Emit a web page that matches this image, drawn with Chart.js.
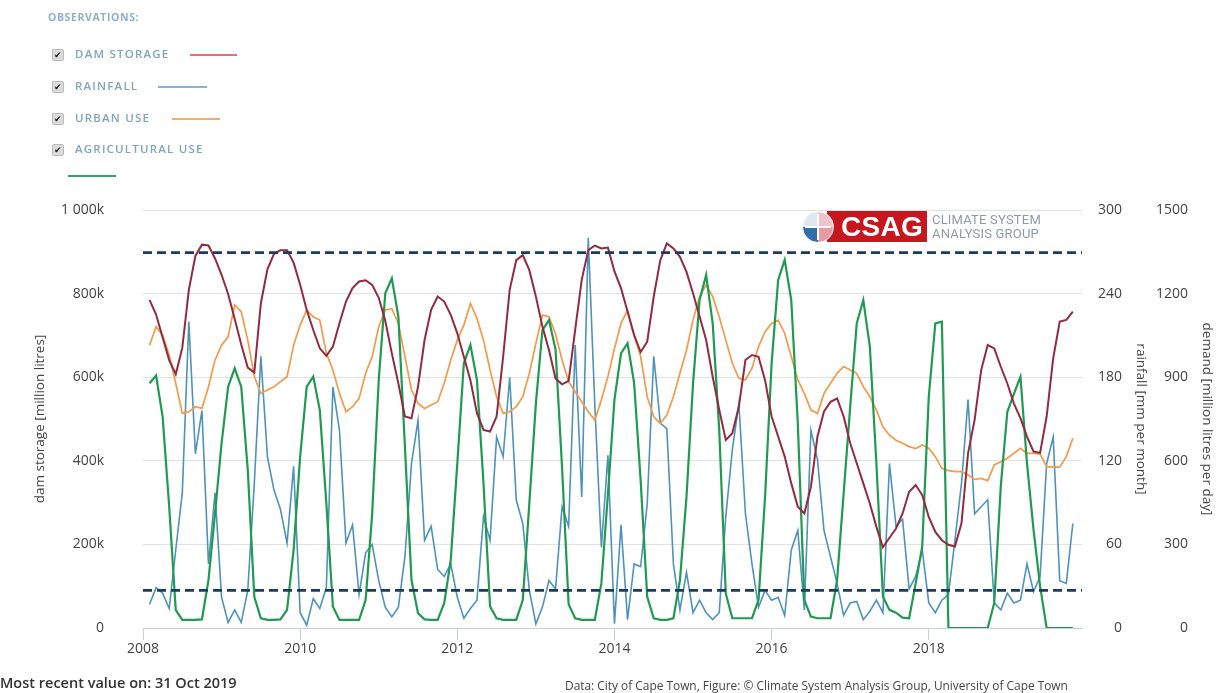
<!DOCTYPE html>
<html>
<head>
<meta charset="utf-8">
<script src="https://cdn.jsdelivr.net/npm/chart.js@4/dist/chart.umd.min.js"></script>
<style>
body{margin:0;background:#fff;font-family:'Open Sans',sans-serif;}
#wrap{position:relative;width:1223px;height:693px;overflow:hidden;}
#chart{position:absolute;left:0;top:0;}
.obs{position:absolute;left:48px;top:10px;font-size:10.5px;font-weight:700;letter-spacing:.6px;color:#8fb0c6;}
.item{position:absolute;left:52px;height:14px;}
.box{position:absolute;left:0;top:1px;width:10px;height:10px;background:#dcdcdc;border:1px solid #b9b9b9;border-radius:2px;font-size:9px;line-height:10px;text-align:center;color:#222;}
.lbl{position:absolute;left:23px;top:-2px;white-space:nowrap;font-size:11.5px;font-weight:600;letter-spacing:1.2px;color:#7ea6bf;}
.sw{position:absolute;height:2px;}
#logo{position:absolute;left:800px;top:210px;height:33px;width:250px;}
.icon{position:absolute;left:2px;top:1px;width:30px;height:30px;border-radius:50%;border:1px solid #fff;
 background:conic-gradient(#f1c3ca 0 25%,#e59aa4 25% 50%,#2f6ea6 50% 75%,#dde8f1 75%);z-index:2;}
.icon:before{content:'';position:absolute;left:14px;top:2px;width:2px;height:26px;background:#fff;}
.icon:after{content:'';position:absolute;left:2px;top:14px;width:26px;height:2px;background:#fff;}
.badge{position:absolute;left:27px;top:1px;width:100px;height:31px;background:#c6161e;color:#fff;font-family:'Liberation Sans',Arial,sans-serif;
 font-weight:700;font-size:28px;line-height:31px;text-align:right;padding-right:4px;box-sizing:border-box;letter-spacing:.3px;}
.ltxt{position:absolute;left:132px;top:3px;font-family:Roboto,sans-serif;font-size:13px;line-height:14px;color:#8e9ba7;letter-spacing:.2px;white-space:nowrap;}
.foot1{position:absolute;left:0;top:673px;font-size:14.5px;font-weight:600;color:#333;}
.foot2{position:absolute;left:565px;top:677px;font-size:11.9px;color:#444;white-space:nowrap;}
</style>
</head>
<body>
<div id="wrap">
<canvas id="chart" width="1223" height="693"></canvas>

<div class="obs">OBSERVATIONS:</div>
<div class="item" style="top:48px"><div class="box">&#10004;</div><div class="lbl">DAM STORAGE</div><div class="sw" style="left:138px;top:6px;width:47px;background:#df6f7c"></div></div>
<div class="item" style="top:80px"><div class="box">&#10004;</div><div class="lbl">RAINFALL</div><div class="sw" style="left:106px;top:6px;width:49px;background:#87b3cf"></div></div>
<div class="item" style="top:112px"><div class="box">&#10004;</div><div class="lbl">URBAN USE</div><div class="sw" style="left:120px;top:6px;width:48px;background:#f4aa73"></div></div>
<div class="item" style="top:143px"><div class="box">&#10004;</div><div class="lbl">AGRICULTURAL USE</div><div class="sw" style="left:16px;top:32px;width:48px;background:#2fa862"></div></div>

<div id="logo">
  <div class="badge">CSAG</div>
  <div class="icon"></div>
  <div class="ltxt">CLIMATE SYSTEM<br>ANALYSIS GROUP</div>
</div>

<div class="foot1">Most recent value on: 31 Oct 2019</div>
<div class="foot2">Data: City of Cape Town, Figure: © Climate System Analysis Group, University of Cape Town</div>
</div>

<script>
// monthly values, Jan 2008 - Oct 2019
const startYear = 2008;

// dam storage, thousand million litres
const damStorage = [
  785, 750, 695, 641, 607, 670, 809, 890, 917, 915, 884, 845,
  799, 740, 678, 623, 611, 777, 858, 895, 904, 904, 874, 821,
  761, 713, 669, 651, 673, 729, 781, 813, 829, 832, 821, 790,
  735, 657, 585, 506, 502, 577, 689, 761, 793, 781, 749, 705,
  649, 593, 514, 474, 470, 506, 649, 809, 880, 892, 856, 793,
  721, 665, 597, 583, 591, 713, 833, 904, 915, 908, 910, 853,
  813, 757, 701, 660, 685, 793, 880, 920, 908, 888, 852, 801,
  745, 689, 601, 522, 450, 466, 530, 641, 653, 649, 593, 506,
  458, 410, 346, 290, 274, 338, 458, 518, 541, 549, 506, 442,
  394, 346, 298, 242, 193, 216, 238, 274, 326, 342, 318, 266,
  230, 210, 199, 195, 251, 418, 498, 617, 677, 669, 625, 585,
  537, 502, 458, 422, 419, 506, 645, 733, 737, 757
];

// rainfall, mm per month
const rainfall = [
  17, 29, 25, 14, 56, 97, 220, 125, 156, 46, 97, 22,
  4, 13, 4, 27, 104, 195, 123, 99, 85, 61, 116, 11,
  2, 21, 14, 29, 173, 142, 61, 74, 24, 54, 60, 34,
  15, 8, 15, 51, 118, 149, 63, 73, 42, 37, 46, 22,
  7, 14, 20, 80, 63, 137, 123, 180, 92, 75, 27, 3,
  15, 34, 28, 87, 73, 203, 94, 280, 160, 58, 124, 3,
  74, 6, 46, 44, 89, 195, 147, 143, 46, 13, 40, 11,
  20, 11, 6, 11, 80, 128, 161, 82, 46, 15, 27, 20,
  22, 9, 56, 70, 13, 142, 121, 70, 51, 32, 9, 18,
  19, 6, 12, 20, 11, 118, 73, 78, 28, 37, 56, 18,
  11, 20, 24, 63, 104, 164, 82, 87, 92, 18, 13, 25,
  18, 20, 46, 26, 37, 118, 137, 34, 32, 75
];

// urban use, million litres per day
const urbanUse = [
  1015, 1081, 1051, 980, 878, 770, 776, 794, 788, 866, 962, 1015,
  1045, 1159, 1135, 1033, 902, 842, 854, 866, 884, 902, 1015, 1087,
  1141, 1117, 1105, 986, 926, 842, 776, 794, 824, 914, 974, 1081,
  1141, 1146, 1093, 974, 854, 806, 788, 800, 812, 878, 962, 1033,
  1087, 1165, 1111, 1033, 926, 830, 770, 776, 794, 830, 914, 1021,
  1123, 1117, 1055, 962, 884, 848, 812, 776, 746, 818, 902, 1003,
  1093, 1140, 1050, 974, 830, 758, 734, 764, 830, 914, 997, 1105,
  1189, 1231, 1189, 1117, 1033, 950, 896, 890, 932, 1010, 1063, 1093,
  1105, 1057, 974, 890, 842, 782, 770, 842, 878, 914, 938, 926,
  914, 866, 830, 782, 722, 692, 674, 663, 651, 644, 657, 645,
  615, 573, 565, 561, 561, 549, 533, 537, 529, 585, 597, 609,
  627, 645, 627, 627, 624, 579, 577, 577, 615, 681
];

// agricultural use, million litres per day
const agriculturalUse = [
  878, 906, 758, 435, 65, 29, 29, 29, 31, 172, 411, 663,
  866, 932, 866, 567, 112, 35, 29, 29, 31, 65, 280, 615,
  866, 902, 782, 447, 77, 29, 29, 29, 29, 100, 411, 890,
  1201, 1255, 1117, 651, 172, 53, 31, 29, 29, 89, 244, 591,
  950, 1016, 890, 519, 77, 35, 29, 29, 29, 100, 447, 806,
  1069, 1105, 1000, 575, 85, 35, 29, 29, 29, 160, 480, 820,
  985, 1022, 880, 530, 112, 35, 29, 29, 35, 172, 471, 878,
  1177, 1267, 1093, 711, 124, 35, 35, 35, 35, 100, 471, 950,
  1249, 1321, 1177, 734, 100, 41, 35, 35, 35, 172, 483, 794,
  1093, 1177, 1010, 591, 112, 65, 55, 37, 35, 160, 292, 830,
  1093, 1099, 0, 0, 0, 0, 0, 0, 0, 90, 510, 776,
  840, 902, 591, 352, 150, 0, 0, 0, 0, 0
];

// dashed reference levels on the storage axis
const storageLevels = [898, 90];

const yearTicks = [2008, 2010, 2012, 2014, 2016, 2018];
const storageTicks = [0, 200, 400, 600, 800, 1000];
const rainTicks = [0, 60, 120, 180, 240, 300];
const demandTicks = [0, 300, 600, 900, 1200, 1500];
const xMin = 2008, xMax = 2019.95;

const toPoints = arr => arr.map((v, i) => ({x: startYear + (i + 1) / 12, y: v}));
const setTicks = list => scale => { scale.ticks = list.map(v => ({value: v})); };
const tickFont = {family: "'Open Sans', sans-serif", size: 14};
const titleFont = {family: "'Open Sans', sans-serif", size: 13.5};

const levelSets = storageLevels.map(v => ({
  data: [{x: xMin, y: v}, {x: xMax, y: v}],
  yAxisID: 'y', borderColor: '#1d3b5c', borderWidth: 2.6, borderDash: [9, 5],
  pointRadius: 0
}));

new Chart(document.getElementById('chart'), {
  type: 'line',
  data: {
    datasets: [
      ...levelSets,
      {label: 'Dam storage', data: toPoints(damStorage), yAxisID: 'y', borderColor: '#922b40', borderWidth: 2, pointRadius: 0},
      {label: 'Agricultural use', data: toPoints(agriculturalUse), yAxisID: 'y2', borderColor: '#1f9a50', borderWidth: 2.2, pointRadius: 0},
      {label: 'Urban use', data: toPoints(urbanUse), yAxisID: 'y2', borderColor: '#f39a4c', borderWidth: 1.7, pointRadius: 0},
      {label: 'Rainfall', data: toPoints(rainfall), yAxisID: 'y1', borderColor: '#4f92bb', borderWidth: 1.6, pointRadius: 0}
    ]
  },
  options: {
    responsive: false,
    devicePixelRatio: 1,
    animation: false,
    layout: {padding: {left: 0, right: 35, top: 210, bottom: 30}},
    plugins: {legend: {display: false}, tooltip: {enabled: false}},
    scales: {
      x: {
        type: 'linear', min: xMin, max: xMax,
        afterBuildTicks: setTicks(yearTicks),
        afterFit: s => { s.height = 35; },
        ticks: {color: '#444', font: tickFont, padding: 1, maxRotation: 0, callback: v => String(v)},
        grid: {drawOnChartArea: false, drawTicks: true, tickLength: 12, color: '#c9d1d8'},
        border: {color: '#c9d1d8'}
      },
      y: {
        position: 'left', min: 0, max: 1000,
        afterBuildTicks: setTicks(storageTicks),
        afterFit: s => { s.width = 143; },
        ticks: {color: '#444', font: tickFont, padding: 39,
          callback: v => v === 0 ? '0' : v >= 1000 ? (v / 1000) + ' 000k' : v + 'k'},
        grid: {color: '#e2e2e2', drawTicks: false},
        border: {display: false},
        title: {display: true, text: 'dam storage [million litres]', color: '#444', font: titleFont, padding: {top: 32, bottom: 0}}
      },
      y1: {
        position: 'right', min: 0, max: 300,
        afterBuildTicks: setTicks(rainTicks),
        afterFit: s => { s.width = 40; },
        ticks: {color: '#444', font: tickFont, crossAlign: 'far', callback: v => String(v)},
        grid: {display: false},
        border: {display: false},
        title: {display: true, text: 'rainfall [mm per month]', color: '#444', font: titleFont, padding: {top: -27, bottom: 0}}
      },
      y2: {
        position: 'right', min: 0, max: 1500,
        afterBuildTicks: setTicks(demandTicks),
        afterFit: s => { s.width = 66; },
        ticks: {color: '#444', font: tickFont, crossAlign: 'far', callback: v => String(v)},
        grid: {display: false},
        border: {display: false},
        title: {display: true, text: 'demand [million litres per day]', color: '#444', font: titleFont, padding: {top: -27, bottom: 0}}
      }
    }
  }
});
</script>
</body>
</html>
